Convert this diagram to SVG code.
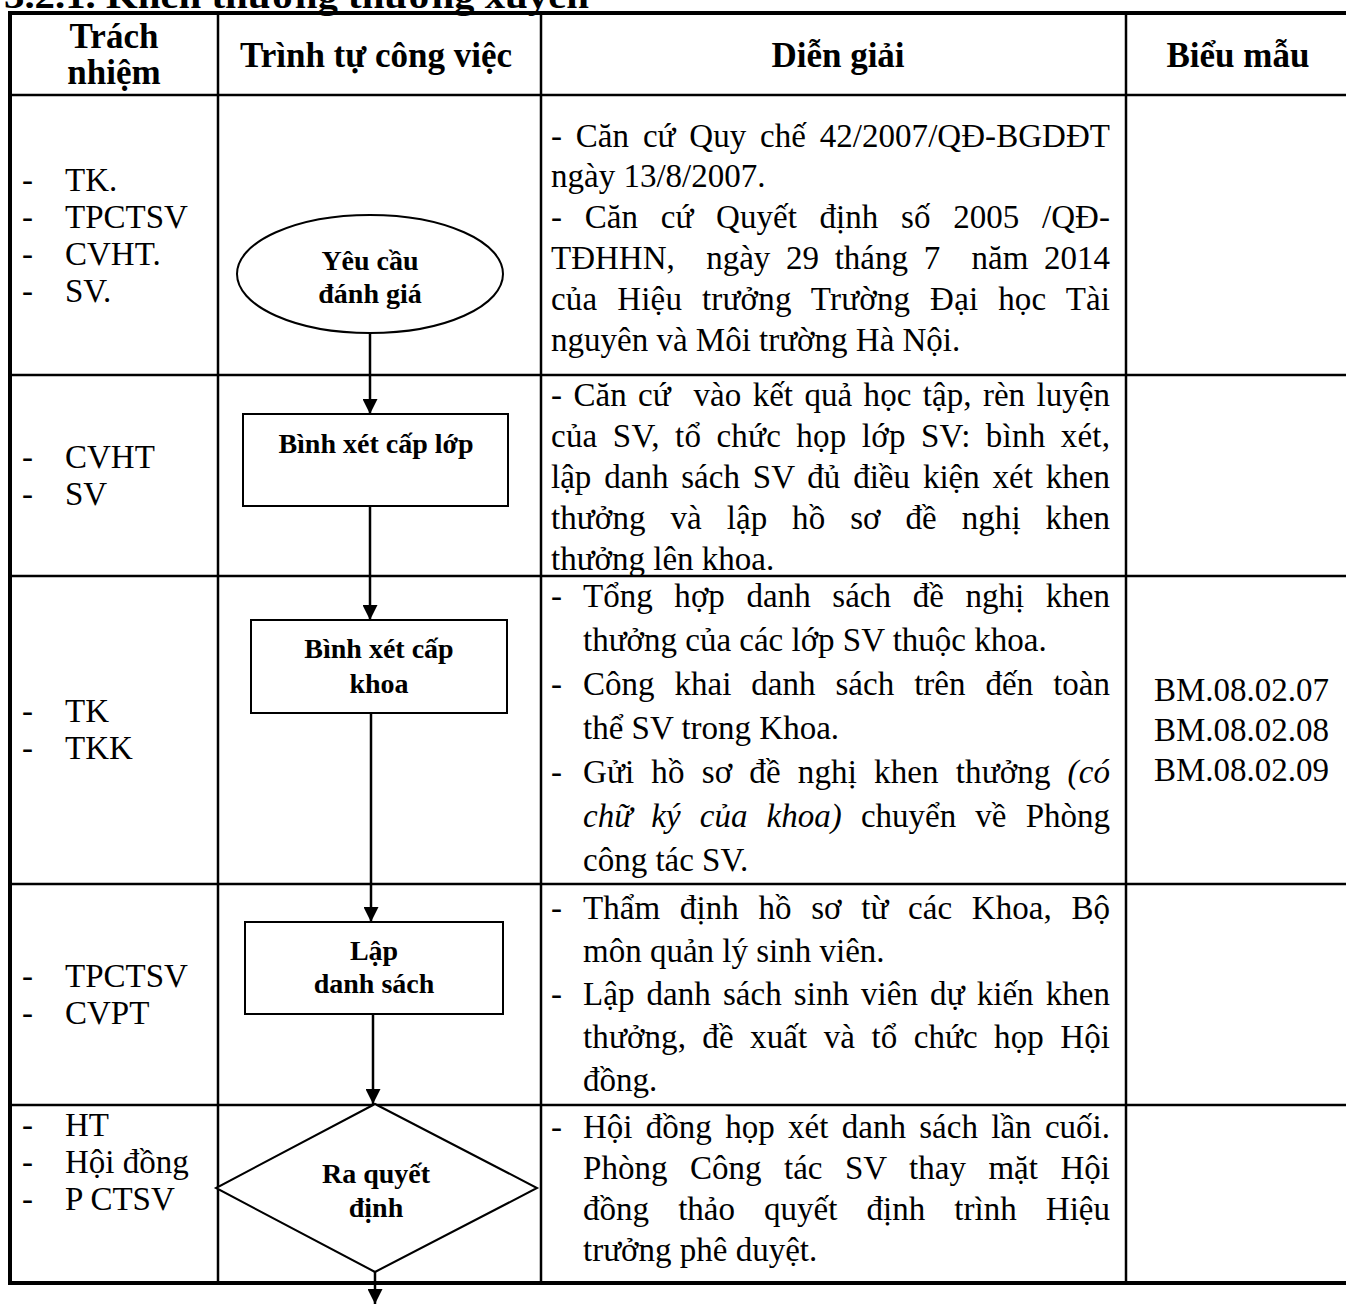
<svg xmlns="http://www.w3.org/2000/svg" width="1346" height="1304" viewBox="0 0 1346 1304">
<style>
.t{font-family:"Liberation Serif","Times New Roman",serif;font-size:33px;fill:#000}
.h{font-family:"Liberation Serif","Times New Roman",serif;font-size:35px;font-weight:bold;fill:#000}
.l{font-family:"Liberation Serif","Times New Roman",serif;font-size:28px;font-weight:bold;fill:#000;text-anchor:middle}
.c{text-anchor:middle}
.i{font-style:italic}
.thick{stroke:#000;stroke-width:4;fill:none}
.thin{stroke:#000;stroke-width:2.5;fill:none}
.shape{stroke:#000;stroke-width:2;fill:#fff}
.conn{stroke:#000;stroke-width:2.5;fill:none}
</style>
<defs>
<marker id="ah" viewBox="0 0 10 10" refX="10" refY="5" markerWidth="6" markerHeight="6" markerUnits="strokeWidth" orient="auto">
<path d="M0,0 L10,5 L0,10 Z" fill="#000"/>
</marker>
</defs>
<rect width="1346" height="1304" fill="#fff"/>
<text class="h" x="4" y="8" textLength="585" lengthAdjust="spacingAndGlyphs">3.2.1. Khen thưởng thường xuyên</text>

<g id="table">
<line class="thick" x1="8" y1="13" x2="1346" y2="13"/>
<line class="thick" x1="10" y1="11" x2="10" y2="1285"/>
<line class="thick" x1="8" y1="1283" x2="1346" y2="1283"/>
<line class="thin" x1="10" y1="95" x2="1346" y2="95"/>
<line class="thin" x1="10" y1="375" x2="1346" y2="375"/>
<line class="thin" x1="10" y1="576" x2="1346" y2="576"/>
<line class="thin" x1="10" y1="884" x2="1346" y2="884"/>
<line class="thin" x1="10" y1="1105" x2="1346" y2="1105"/>
<line class="thin" x1="218" y1="13" x2="218" y2="1283"/>
<line class="thin" x1="541" y1="13" x2="541" y2="1283"/>
<line class="thin" x1="1126" y1="13" x2="1126" y2="1283"/>
</g>

<g id="header">
<text class="h c" x="114" y="48">Trách</text>
<text class="h c" x="114" y="84">nhiệm</text>
<text class="h c" x="376" y="67">Trình tự công việc</text>
<text class="h c" x="838" y="67">Diễn giải</text>
<text class="h c" x="1238" y="67">Biểu mẫu</text>
</g>

<g id="responsibility">
<text class="t" x="22" y="191">-</text><text class="t" x="65" y="191">TK.</text>
<text class="t" x="22" y="228">-</text><text class="t" x="65" y="228">TPCTSV</text>
<text class="t" x="22" y="265">-</text><text class="t" x="65" y="265">CVHT.</text>
<text class="t" x="22" y="302">-</text><text class="t" x="65" y="302">SV.</text>
<text class="t" x="22" y="468">-</text><text class="t" x="65" y="468">CVHT</text>
<text class="t" x="22" y="505">-</text><text class="t" x="65" y="505">SV</text>
<text class="t" x="22" y="722">-</text><text class="t" x="65" y="722">TK</text>
<text class="t" x="22" y="759">-</text><text class="t" x="65" y="759">TKK</text>
<text class="t" x="22" y="987">-</text><text class="t" x="65" y="987">TPCTSV</text>
<text class="t" x="22" y="1024">-</text><text class="t" x="65" y="1024">CVPT</text>
<text class="t" x="22" y="1136">-</text><text class="t" x="65" y="1136">HT</text>
<text class="t" x="22" y="1173">-</text><text class="t" x="65" y="1173">Hội đồng</text>
<text class="t" x="22" y="1210">-</text><text class="t" x="65" y="1210">P CTSV</text>
</g>

<g id="description">
<text class="t" x="551" y="147" word-spacing="5.5" textLength="559" lengthAdjust="spacing">- Căn cứ Quy chế 42/2007/QĐ-BGDĐT</text>
<text class="t" x="551" y="187">ngày 13/8/2007.</text>
<text class="t" x="551" y="228" word-spacing="14.4" textLength="559" lengthAdjust="spacing">- Căn cứ Quyết định số 2005 /QĐ-</text>
<text class="t" x="551" y="269" xml:space="preserve" word-spacing="7.4" textLength="559" lengthAdjust="spacing">TĐHHN,  ngày 29 tháng 7  năm 2014</text>
<text class="t" x="551" y="310" word-spacing="11.4" textLength="559" lengthAdjust="spacing">của Hiệu trưởng Trường Đại học Tài</text>
<text class="t" x="551" y="351">nguyên và Môi trường Hà Nội.</text>

<text class="t" x="551" y="406" xml:space="preserve" word-spacing="3.1" textLength="559" lengthAdjust="spacing">- Căn cứ  vào kết quả học tập, rèn luyện</text>
<text class="t" x="551" y="447" word-spacing="6.8" textLength="559" lengthAdjust="spacing">của SV, tổ chức họp lớp SV: bình xét,</text>
<text class="t" x="551" y="488" word-spacing="4.6" textLength="559" lengthAdjust="spacing">lập danh sách SV đủ điều kiện xét khen</text>
<text class="t" x="551" y="529" word-spacing="16.5" textLength="559" lengthAdjust="spacing">thưởng và lập hồ sơ đề nghị khen</text>
<text class="t" x="551" y="570">thưởng lên khoa.</text>

<text class="t" x="551" y="607">-</text>
<text class="t" x="583" y="607" word-spacing="13.3" textLength="527" lengthAdjust="spacing">Tổng hợp danh sách đề nghị khen</text>
<text class="t" x="583" y="651">thưởng của các lớp SV thuộc khoa.</text>
<text class="t" x="551" y="695">-</text>
<text class="t" x="583" y="695" word-spacing="11.8" textLength="527" lengthAdjust="spacing">Công khai danh sách trên đến toàn</text>
<text class="t" x="583" y="739">thể SV trong Khoa.</text>
<text class="t" x="551" y="783">-</text>
<text class="t" x="583" y="783" word-spacing="8.7" textLength="527" lengthAdjust="spacing">Gửi hồ sơ đề nghị khen thưởng <tspan class="i">(có</tspan></text>
<text class="t" x="583" y="827" word-spacing="10.9" textLength="527" lengthAdjust="spacing"><tspan class="i">chữ ký của khoa)</tspan> chuyển về Phòng</text>
<text class="t" x="583" y="871">công tác SV.</text>

<text class="t" x="551" y="919">-</text>
<text class="t" x="583" y="919" word-spacing="11.3" textLength="527" lengthAdjust="spacing">Thẩm định hồ sơ từ các Khoa, Bộ</text>
<text class="t" x="583" y="962">môn quản lý sinh viên.</text>
<text class="t" x="551" y="1005">-</text>
<text class="t" x="583" y="1005" word-spacing="3.8" textLength="527" lengthAdjust="spacing">Lập danh sách sinh viên dự kiến khen</text>
<text class="t" x="583" y="1048" word-spacing="8" textLength="527" lengthAdjust="spacing">thưởng, đề xuất và tổ chức họp Hội</text>
<text class="t" x="583" y="1091">đồng.</text>

<text class="t" x="551" y="1138">-</text>
<text class="t" x="583" y="1138" word-spacing="5.1" textLength="527" lengthAdjust="spacing">Hội đồng họp xét danh sách lần cuối.</text>
<text class="t" x="583" y="1179" word-spacing="14.2" textLength="527" lengthAdjust="spacing">Phòng Công tác SV thay mặt Hội</text>
<text class="t" x="583" y="1220" word-spacing="20.9" textLength="527" lengthAdjust="spacing">đồng thảo quyết định trình Hiệu</text>
<text class="t" x="583" y="1261">trưởng phê duyệt.</text>
</g>

<g id="forms">
<text class="t" x="1154" y="701">BM.08.02.07</text>
<text class="t" x="1154" y="741">BM.08.02.08</text>
<text class="t" x="1154" y="781">BM.08.02.09</text>
</g>

<g id="connectors">
<line class="conn" x1="370" y1="333" x2="370" y2="414" marker-end="url(#ah)"/>
<line class="conn" x1="370" y1="506" x2="370" y2="620" marker-end="url(#ah)"/>
<line class="conn" x1="371" y1="713" x2="371" y2="922" marker-end="url(#ah)"/>
<line class="conn" x1="373" y1="1014" x2="373" y2="1104" marker-end="url(#ah)"/>
<line class="conn" x1="375" y1="1272" x2="375" y2="1304" marker-end="url(#ah)"/>
</g>

<g id="node-yeucau">
<ellipse class="shape" cx="370" cy="274" rx="133" ry="59"/>
<text class="l" x="370" y="270">Yêu cầu</text>
<text class="l" x="370" y="303">đánh giá</text>
</g>
<g id="node-binhxetlop">
<rect class="shape" x="243" y="414" width="265" height="92"/>
<text class="l" x="376" y="453">Bình xét cấp lớp</text>
</g>
<g id="node-binhxetkhoa">
<rect class="shape" x="251" y="620" width="256" height="93"/>
<text class="l" x="379" y="658">Bình xét cấp</text>
<text class="l" x="379" y="693">khoa</text>
</g>
<g id="node-lapdanhsach">
<rect class="shape" x="245" y="922" width="258" height="92"/>
<text class="l" x="374" y="960">Lập</text>
<text class="l" x="374" y="993">danh sách</text>
</g>
<g id="node-raquyetdinh">
<polygon class="shape" points="375,1104 537,1188 375,1272 216,1188"/>
<text class="l" x="376" y="1183">Ra quyết</text>
<text class="l" x="376" y="1217">định</text>
</g>
</svg>
